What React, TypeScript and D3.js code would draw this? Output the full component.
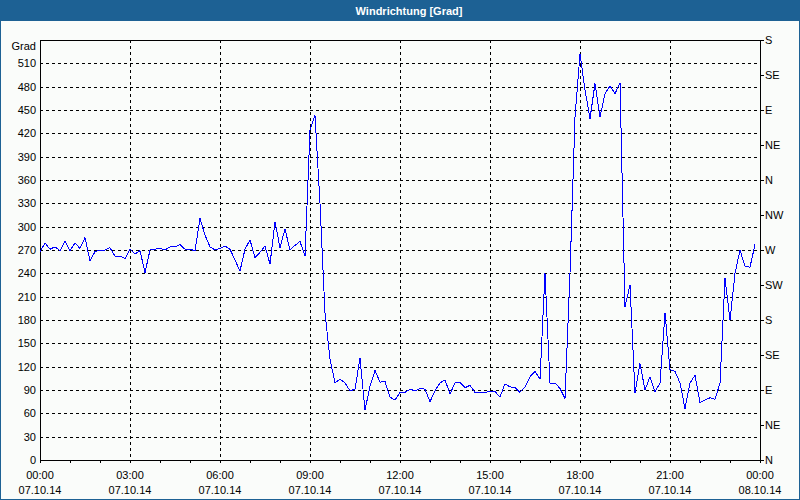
import React from "react";
import * as d3 from "d3";

const TITLE = "Windrichtung [Grad]";
const Y_UNIT = "Grad";

// wind direction, one value every 10 minutes from 07.10.14 00:00 to 23:50
const direction: number[] = [
  268, 279, 271, 274, 269, 281, 269, 279, 272, 286, 256, 268,
  270, 270, 273, 262, 262, 259, 271, 265, 269, 241, 270, 271,
  272, 270, 274, 274, 277, 271, 271, 269, 311, 289, 274, 270,
  272, 275, 271, 257, 243, 271, 283, 260, 267, 275, 252, 306,
  273, 297, 270, 276, 281, 262, 424, 443, 330, 189, 130, 99,
  104, 99, 89, 91, 131, 64, 95, 115, 100, 101, 81, 77,
  87, 87, 91, 89, 92, 91, 75, 89, 99, 103, 85, 99,
  100, 93, 96, 87, 87, 87, 88, 88, 81, 98, 94, 93,
  87, 94, 107, 114, 104, 240, 99, 99, 92, 79, 240, 441,
  522, 476, 439, 484, 441, 471, 481, 471, 485, 197, 225, 86,
  124, 90, 107, 88, 99, 189, 116, 114, 99, 66, 99, 109,
  74, 77, 80, 78, 99, 234, 180, 240, 270, 249, 248, 277,
];
const STEP_MINUTES = 10;

const yTicks: number[] = [0, 30, 60, 90, 120, 150, 180, 210, 240, 270, 300, 330, 360, 390, 420, 450, 480, 510];
const compassValues: number[] = [0, 45, 90, 135, 180, 225, 270, 315, 360, 405, 450, 495, 540];
const compassLabels: string[] = ["N", "NE", "E", "SE", "S", "SW", "W", "NW", "N", "NE", "E", "SE", "S"];
const xTickHours: number[] = [0, 3, 6, 9, 12, 15, 18, 21, 24];
const xTimeLabels: string[] = ["00:00", "03:00", "06:00", "09:00", "12:00", "15:00", "18:00", "21:00", "00:00"];
const xDateLabels: string[] = ["07.10.14", "07.10.14", "07.10.14", "07.10.14", "07.10.14", "07.10.14", "07.10.14", "07.10.14", "08.10.14"];

const W = 800;
const H = 500;
const L = 40, R = 760, T = 40, B = 460;
const FONT = "'Liberation Sans', Arial, sans-serif";
const BLUE = "#1d6194";

export default function App() {
  const x = d3.scaleLinear().domain([0, 24 * 60]).range([L, R]);
  const y = d3.scaleLinear().domain([0, 540]).range([B, T]);
  const line = d3
    .line<number>()
    .x((_, i) => x(i * STEP_MINUTES))
    .y((d) => y(d));
  const px = (v: number) => Math.round(v) + 0.5;
  const hours = d3.range(0, 25);

  return (
    <div style={{ position: "fixed", left: 0, top: 0, width: W, height: H }}>
      <svg width={W} height={H} style={{ display: "block" }} fontFamily={FONT}>
        <rect x={0} y={0} width={W} height={H} fill="#fafcfa" />
        <rect x={0} y={0} width={W} height={21} fill={BLUE} />
        <rect x={0.5} y={0.5} width={W - 1} height={H - 1} fill="none" stroke={BLUE} />
        <text x={409} y={15} fill="#fff" fontSize={11} fontWeight="bold" textAnchor="middle">
          {TITLE}
        </text>

        {/* horizontal grid */}
        {yTicks.filter((v) => v > 0).map((v) => (
          <line key={"hg" + v} x1={L} x2={R} y1={px(y(v))} y2={px(y(v))} stroke="#000" strokeDasharray="3,3" shapeRendering="crispEdges" />
        ))}
        {/* vertical grid */}
        {xTickHours.filter((h) => h > 0 && h < 24).map((h) => (
          <line key={"vg" + h} x1={px(x(h * 60))} x2={px(x(h * 60))} y1={T} y2={B} stroke="#000" strokeDasharray="3,3" shapeRendering="crispEdges" />
        ))}

        {/* frame */}
        <rect x={L + 0.5} y={T + 0.5} width={R - L} height={B - T} fill="none" stroke="#000" shapeRendering="crispEdges" />

        {/* bottom hourly ticks */}
        {hours.map((h) => (
          <line key={"xt" + h} x1={px(x(h * 60))} x2={px(x(h * 60))} y1={B} y2={B + 3} stroke="#000" shapeRendering="crispEdges" />
        ))}
        {/* right compass ticks */}
        {compassValues.map((v) => (
          <line key={"rt" + v} x1={R} x2={R + 4} y1={px(y(v))} y2={px(y(v))} stroke="#000" shapeRendering="crispEdges" />
        ))}

        {/* data */}
        <path d={line(direction) || ""} fill="none" stroke="#0000ff" strokeWidth={1} shapeRendering="crispEdges" />

        {/* left labels */}
        <text x={36} y={50} fontSize={11} textAnchor="end" fill="#000">{Y_UNIT}</text>
        {yTicks.map((v) => (
          <text key={"yl" + v} x={36} y={y(v) + 4} fontSize={11} textAnchor="end" fill="#000">{v}</text>
        ))}
        {/* right labels */}
        {compassValues.map((v, i) => (
          <text key={"rl" + v} x={765} y={y(v) + 4} fontSize={11} textAnchor="start" fill="#000">{compassLabels[i]}</text>
        ))}
        {/* bottom labels */}
        {xTickHours.map((h, i) => (
          <g key={"xl" + h}>
            <text x={x(h * 60)} y={479} fontSize={11} textAnchor="middle" fill="#000">{xTimeLabels[i]}</text>
            <text x={x(h * 60)} y={494} fontSize={11} textAnchor="middle" fill="#000">{xDateLabels[i]}</text>
          </g>
        ))}
      </svg>
    </div>
  );
}
